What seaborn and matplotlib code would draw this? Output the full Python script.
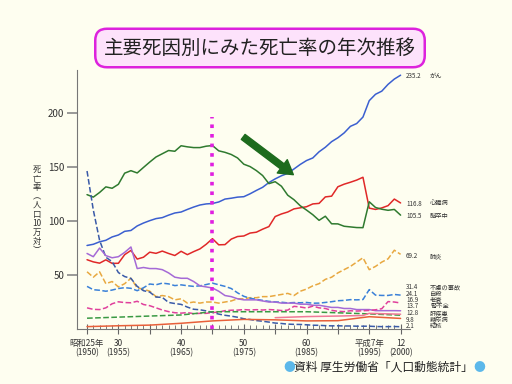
import matplotlib
matplotlib.use("Agg")
import matplotlib.pyplot as plt
import pandas as pd
import seaborn as sns

# --- data (per 100,000 population) ---
years = list(range(1950, 2001))

cancer = [77.4, 78.5, 80.8, 82.2, 85.3, 87.1, 90.5, 91.3, 95.5, 98.2,
          100.4, 102.3, 103.2, 105.5, 107.5, 108.4, 110.8, 113.0, 114.9, 115.9,
          116.3, 117.7, 120.4, 121.2, 122.2, 122.6, 125.3, 128.4, 131.3, 135.7,
          139.1, 142.0, 144.2, 148.3, 152.5, 156.1, 158.5, 164.2, 168.4, 173.6,
          177.2, 181.7, 187.8, 190.4, 196.4, 211.6, 217.5, 220.4, 226.7, 231.6,
          235.2]
heart = [64.2, 62.2, 61.0, 64.1, 60.8, 60.9, 68.9, 72.8, 64.8, 66.5,
         71.2, 70.1, 72.2, 70.0, 68.1, 72.0, 68.9, 71.7, 74.2, 78.5,
         83.7, 78.0, 78.2, 83.3, 85.7, 86.2, 88.9, 89.7, 92.5, 94.9,
         104.2, 106.6, 108.4, 111.3, 112.3, 113.3, 115.9, 116.4, 122.4, 123.1,
         131.8, 134.2, 136.0, 138.0, 140.6, 112.0, 110.8, 112.2, 114.3, 120.4,
         116.8]
stroke = [124.5, 122.2, 126.5, 131.7, 130.4, 134.1, 144.4, 146.7, 144.6, 149.7,
          154.7, 159.4, 162.4, 165.4, 164.7, 169.8, 168.8, 168.1, 168.1, 169.4,
          170.0, 165.1, 163.7, 161.7, 158.5, 152.7, 150.5, 146.8, 142.2, 134.7,
          136.5, 132.3, 124.0, 119.8, 114.2, 110.2, 105.9, 100.7, 104.5, 97.5,
          97.4, 95.2, 94.6, 94.0, 93.9, 117.9, 112.6, 111.0, 110.0, 110.8,
          105.5]
pneumonia = [53, 48, 53, 42, 44, 39, 42, 47, 38, 37,
             35, 30, 31, 30, 27, 28, 24, 25, 24, 25,
             25, 24, 25, 26, 28, 28, 29, 29, 30, 30,
             31, 32, 33, 31, 35, 37, 40, 42, 46, 48,
             52, 55, 58, 62, 66, 55, 58, 62, 65, 73,
             69.2]
tuberculosis = [146.4, 110.3, 82.2, 66.5, 62.4, 52.3, 48.6, 46.9, 39.5, 35.5,
                34.2, 29.6, 29.3, 24.6, 23.6, 22.8, 20.3, 18.3, 17.8, 16.8,
                15.4, 13.8, 12.7, 11.9, 10.9, 9.5, 8.8, 7.8, 7.2, 6.4,
                5.5, 5.1, 4.5, 4.3, 4.2, 3.9, 3.5, 3.4, 3.1, 2.9,
                3.0, 2.8, 2.8, 2.6, 2.6, 2.6, 2.3, 2.2, 2.2, 2.3,
                2.1]
senility = [70, 67, 75, 68, 66, 67, 71, 76, 56, 57,
            56, 56, 55, 52, 48, 47, 47, 44, 40, 39,
            38, 35, 31, 30, 28, 27, 27, 27, 26, 25,
            25, 24, 24, 24, 23, 23, 22, 22, 21, 20,
            20, 19, 19, 18, 18, 18, 17, 17, 17, 17,
            16.9]
accident = [39.5, 36.4, 35.9, 35.0, 36.1, 37.5, 38.3, 37.7, 35.5, 38.2,
            41.7, 41.0, 42.5, 41.8, 40.2, 40.9, 40.1, 39.5, 40.0, 41.2,
            42.5, 41.0, 39.5, 37.5, 33.5, 30.3, 28.5, 27.5, 26.5, 25.6,
            25.1, 24.8, 24.2, 24.5, 24.3, 24.6, 23.9, 24.0, 24.6, 25.3,
            26.2, 26.5, 27.2, 27.0, 27.3, 36.5, 31.4, 31.1, 31.1, 32.0,
            31.4]
suicide = [19.6, 18.2, 18.0, 19.6, 23.4, 25.2, 24.5, 24.3, 25.7, 22.7,
           21.6, 19.6, 17.6, 16.1, 15.1, 14.7, 15.2, 14.2, 14.5, 14.5,
           15.3, 15.6, 17.0, 17.4, 17.5, 18.0, 17.6, 17.9, 17.6, 18.0,
           17.7, 17.1, 17.5, 21.0, 20.4, 19.4, 21.2, 19.6, 19.0, 17.3,
           16.4, 16.1, 16.9, 16.6, 16.9, 17.2, 17.8, 18.8, 25.4, 25.0,
           24.1]

liver_years = [1950, 1955, 1960, 1965, 1970, 1975, 1980, 1985, 1990, 1995, 2000]
liver = [10, 11, 12, 13, 16, 16, 16, 16, 15, 14, 12.8]
kidney_years = [1980, 1985, 1990, 1994, 1995, 2000]
kidney = [10.5, 11.5, 12.0, 12.5, 14.5, 13.7]
diabetes_years = [1950, 1955, 1960, 1965, 1970, 1975, 1980, 1985, 1990, 1995, 2000]
diabetes = [2.2, 3.0, 3.6, 5.3, 7.5, 8.9, 8.5, 7.5, 7.7, 11.4, 9.8]

end_labels = [("235.2", "がん", 76), ("116.8", "心臓病", 204), ("105.5", "脳卒中", 216),
              ("69.2", "肺炎", 256), ("31.4", "不慮の事故", 287), ("24.1", "自殺", 293.5),
              ("16.9", "老衰", 300), ("13.7", "腎不全", 306.5), ("12.8", "肝疾患", 313),
              ("9.8", "糖尿病", 319.5), ("2.1", "結核", 326)]

tick_years = [1950, 1955, 1960, 1965, 1970, 1975, 1980, 1985, 1990, 1995, 2000]
tick_labels = ["昭和25年\n(1950)", "30\n(1955)", "", "40\n(1965)", "", "50\n(1975)",
               "", "60\n(1985)", "", "平成7年\n(1995)", "12\n(2000)"]

marker_year = 1970
arrow_tail = (1974.9, 178)
arrow_tip = (1982.9, 143)

# --- style ---
sns.set_style("ticks")
plt.rcParams["font.family"] = ["Noto Sans CJK JP", "DejaVu Sans"]
bg = "#fefef0"

W, H = 512, 384
fig = plt.figure(figsize=(W / 100, H / 100), dpi=100, facecolor=bg)
ax = fig.add_axes([77 / W, 1 - 329 / H, (410 - 77) / W, (329 - 70) / H])
ax.set_facecolor(bg)

series = [
    (years, cancer, "#3b5fd0", "-"),
    (years, heart, "#e02828", "-"),
    (years, stroke, "#2f7a2f", "-"),
    (years, pneumonia, "#e8a840", "--"),
    (years, tuberculosis, "#3a5aa8", "--"),
    (years, accident, "#3a80d8", "--"),
    (years, senility, "#a56ad6", "-"),
    (years, suicide, "#e0409c", "--"),
    (liver_years, liver, "#3a9a44", "--"),
    (kidney_years, kidney, "#f07898", "-"),
    (diabetes_years, diabetes, "#e8603a", "-"),
]
for xs, ys, color, ls in series:
    df = pd.DataFrame({"year": xs, "rate": ys})
    sns.lineplot(data=df, x="year", y="rate", color=color, linestyle=ls,
                 linewidth=1.1, ax=ax)

ax.plot([marker_year, marker_year], [0, 196], color="#e020e0", linestyle=":",
        linewidth=2.6)
ax.annotate("", xy=arrow_tip, xytext=arrow_tail,
            arrowprops=dict(facecolor="#1d6b1d", edgecolor="#1d6b1d",
                            width=4.5, headwidth=12, headlength=10, shrink=0))

ax.set_xlim(1948.4, 2001.5)
ax.set_ylim(0, 240)
ax.set_xlabel("")
ax.set_ylabel("")
ax.set_yticks([50, 100, 150, 200])
ax.tick_params(axis="y", labelsize=7, length=7, width=1.2, color="#888888",
               labelcolor="#333333", pad=2)
ax.set_xticks(tick_years)
ax.set_xticklabels(tick_labels, fontsize=6, color="#333333", linespacing=1.1)
ax.set_xticks(years, minor=True)
ax.tick_params(axis="x", which="major", direction="inout", length=7, color="#666666")
ax.tick_params(axis="x", which="minor", direction="in", length=3, color="#666666")
for side in ["top", "right"]:
    ax.spines[side].set_visible(False)
for side in ["left", "bottom"]:
    ax.spines[side].set_color("#777777")

# title box
fig.text(260 / W, 1 - 48 / H, "主要死因別にみた死亡率の年次推移", ha="center", va="center",
         fontsize=14, color="#222222",
         bbox=dict(boxstyle="round,pad=0.45,rounding_size=0.6", fc="#fde2fb",
                   ec="#dd22dd", lw=1.8))

# y label (vertical writing)
fig.text(37 / W, 1 - 210 / H, "\n".join(["死", "亡", "率", "︵", "人", "口", "10", "万", "対", "︶"]),
         ha="center", va="center", fontsize=6, color="#333333", linespacing=1.0)

# end labels
for val, name, ypix in end_labels:
    fig.text(406 / W, 1 - ypix / H, val, ha="left", va="center", fontsize=4.5, color="#333333")
    fig.text(430 / W, 1 - ypix / H, name, ha="left", va="center", fontsize=4.5, color="#333333")

# source
fig.text(283 / W, 1 - 367 / H, "●", ha="left", va="center", fontsize=8.5, color="#5cb8ea")
fig.text(294 / W, 1 - 367 / H, "資料 厚生労働省「人口動態統計」", ha="left", va="center",
         fontsize=8.5, color="#222222")
fig.text(485 / W, 1 - 367 / H, "●", ha="right", va="center", fontsize=8.5, color="#5cb8ea")

fig.savefig("out.png", dpi=100, facecolor=bg)
